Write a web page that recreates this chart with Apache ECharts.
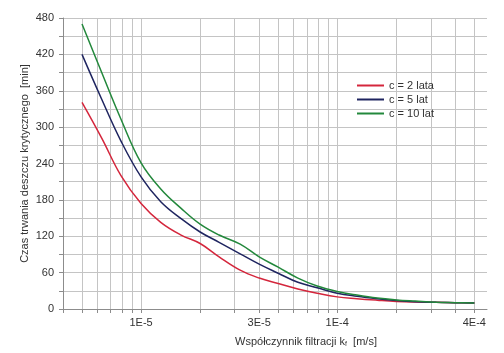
<!DOCTYPE html>
<html>
<head>
<meta charset="utf-8">
<script src="https://cdn.jsdelivr.net/npm/echarts@6/dist/echarts.min.js"></script>
<style>
  html, body { margin: 0; padding: 0; background: #fff; }
  #chart { width: 504px; height: 353px; }
</style>
</head>
<body>
<div id="chart"></div>
<script>
// filtration coefficient k_f [m/s], roughly 0.1 decade apart
var kValues = [5e-6, 6.3e-6, 7.9e-6, 1e-5, 1.26e-5, 1.6e-5, 2e-5, 2.5e-5, 3.2e-5, 4e-5, 5e-5,
  6.3e-5, 7.9e-5, 1e-4, 1.26e-4, 1.6e-4, 2e-4, 2.5e-4, 3.2e-4, 4e-4, 5e-4];

// critical rain duration [min]
var c2 = [341, 282, 220, 174, 143, 122, 108, 86, 64, 51, 42, 33, 26, 20, 17, 14.5, 12.5, 11.5, 11, 10.5, 10];
var c5 = [420, 346, 277, 218, 177, 149, 127, 110, 91, 74, 59, 44, 35, 26, 21, 17, 14, 12, 11, 10.5, 10];
var c10 = [470, 390, 313, 241, 198, 166, 140, 122, 107, 86, 69, 51, 38, 29, 23, 18, 15, 13, 11, 10.5, 10];

var seriesNames = ['c = 2 lata', 'c = 5 lat', 'c = 10 lat'];

var xGridValues = [4e-6, 5e-6, 6e-6, 7e-6, 8e-6, 9e-6, 1e-5, 2e-5, 3e-5, 4e-5, 5e-5, 6e-5,
  7e-5, 8e-5, 9e-5, 1e-4, 2e-4, 3e-4, 4e-4, 5e-4];
// labels sit where the original picture prints them
var xLabelValues = [1e-5, 4e-5, 1e-4, 5e-4];
var xLabelTexts = ['1E-5', '3E-5', '1E-4', '4E-4'];

function pairs(ys) {
  return kValues.map(function (k, i) { return [k, ys[i]]; });
}

var font = "'Liberation Sans Narrow', 'Liberation Sans', Arial, sans-serif";

var option = {
  animation: false,
  grid: { left: 63, right: 17, top: 18, bottom: 40 },
  legend: {
    orient: 'vertical',
    left: 357,
    top: 80,
    padding: 0,
    icon: 'rect',
    itemWidth: 27,
    itemHeight: 2,
    itemGap: 3,
    textStyle: { fontFamily: font, fontSize: 11, color: '#333' },
    data: seriesNames
  },
  xAxis: {
    type: 'log',
    logBase: 10,
    min: 4e-6,
    max: 5.8e-4,
    name: 'Współczynnik filtracji k{s|f}  [m/s]',
    nameLocation: 'middle',
    nameGap: 26,
    nameMoveOverlap: false,
    nameTextStyle: {
      fontFamily: font, fontSize: 11, color: '#333',
      padding: [0, 0, 0, 62],
      rich: { s: { fontFamily: font, fontSize: 7, color: '#333', verticalAlign: 'bottom', padding: [6, 0, 0, 0] } }
    },
    axisLine: { show: true, lineStyle: { color: '#8c8c8c' } },
    axisTick: { show: true, length: 4, lineStyle: { color: '#8c8c8c' }, customValues: xGridValues },
    axisLabel: {
      fontFamily: font, fontSize: 11, color: '#333', margin: 8,
      customValues: xLabelValues,
      formatter: function (v) {
        for (var i = 0; i < xLabelValues.length; i++) {
          if (Math.abs(Math.log10(v) - Math.log10(xLabelValues[i])) < 1e-6) return xLabelTexts[i];
        }
        return '';
      }
    },
    splitLine: { show: true, lineStyle: { color: '#c4c4c4' } }
  },
  yAxis: {
    type: 'value',
    min: 0,
    max: 480,
    interval: 60,
    name: 'Czas trwania deszczu krytycznego  [min]',
    nameLocation: 'middle',
    nameGap: 33,
    nameMoveOverlap: false,
    nameTextStyle: { fontFamily: font, fontSize: 11, color: '#333' },
    axisLine: { show: true, lineStyle: { color: '#8c8c8c' } },
    axisTick: { show: true, length: 4, lineStyle: { color: '#8c8c8c' } },
    minorTick: { show: true, splitNumber: 2, length: 4, lineStyle: { color: '#8c8c8c' } },
    axisLabel: { fontFamily: font, fontSize: 11, color: '#333', margin: 9 },
    splitLine: { show: true, lineStyle: { color: '#c4c4c4' } },
    minorSplitLine: { show: true, lineStyle: { color: '#c4c4c4' } }
  },
  series: [
    {
      name: seriesNames[0], type: 'line', smooth: 0.4, symbol: 'none',
      lineStyle: { color: '#d4263c', width: 1.5 }, itemStyle: { color: '#d4263c' },
      data: pairs(c2)
    },
    {
      name: seriesNames[1], type: 'line', smooth: 0.4, symbol: 'none',
      lineStyle: { color: '#1f2560', width: 1.5 }, itemStyle: { color: '#1f2560' },
      data: pairs(c5)
    },
    {
      name: seriesNames[2], type: 'line', smooth: 0.4, symbol: 'none',
      lineStyle: { color: '#23883c', width: 1.5 }, itemStyle: { color: '#23883c' },
      data: pairs(c10)
    }
  ]
};

var chartDom = document.getElementById('chart');
var myChart = echarts.init(chartDom);
option && myChart.setOption(option);
</script>
</body>
</html>
